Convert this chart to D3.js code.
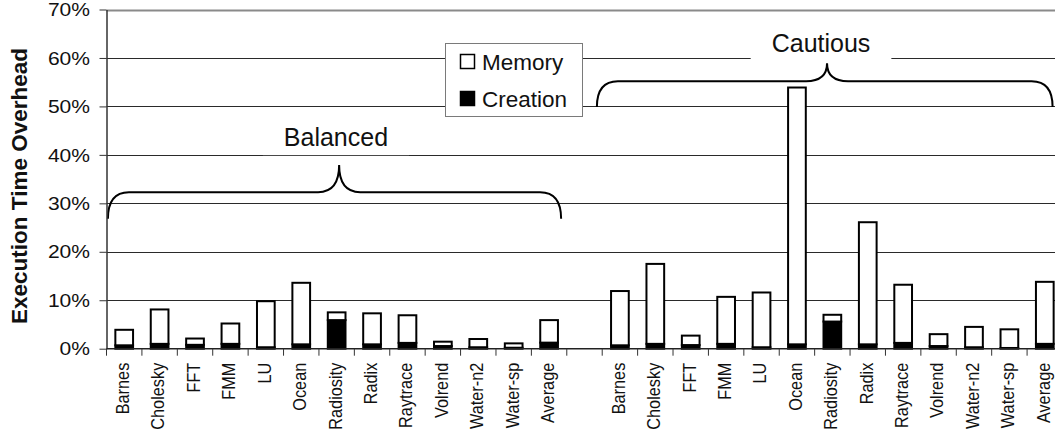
<!DOCTYPE html>
<html><head><meta charset="utf-8">
<script src="https://cdn.jsdelivr.net/npm/d3@7"></script>
<style>
html,body{margin:0;padding:0;background:#fff;}
svg{display:block;font-family:"Liberation Sans",Arial,sans-serif;}
</style></head>
<body>
<svg id="chart" width="1055" height="437"></svg>
<script>
// ---- data ----
const categories = ["Barnes","Cholesky","FFT","FMM","LU","Ocean","Radiosity","Radix","Raytrace","Volrend","Water-n2","Water-sp","Average"];
const groups = ["Balanced","Cautious"];
const seriesKeys = ["Creation","Memory"];
const balancedCreation = [0.7, 1.0, 0.8, 1.0, 0.3, 0.9, 5.9, 0.9, 1.2, 0.55, 0.3, 0.2, 1.25];
const balancedMemory   = [3.2, 7.1, 1.3, 4.2, 9.5, 12.7, 1.6, 6.4, 5.7, 0.9, 1.7, 0.9, 4.65];
const cautiousCreation = [0.7, 1.0, 0.75, 1.0, 0.3, 0.9, 5.6, 0.9, 1.2, 0.55, 0.3, 0.15, 1.0];
const cautiousMemory   = [11.2, 16.5, 1.95, 9.7, 11.3, 53.0, 1.4, 25.2, 12.0, 2.45, 4.2, 3.85, 12.8];
const yTicks = [0,10,20,30,40,50,60,70];
const yTickLabels = ["0%","10%","20%","30%","40%","50%","60%","70%"];
const yTitle = "Execution Time Overhead";

(function(){
// ---- build rows ----
const rows = [];
categories.forEach((c,i)=>rows.push({key:"B|"+c, name:c, Creation:balancedCreation[i], Memory:balancedMemory[i]}));
rows.push({key:"gap", name:"", Creation:0, Memory:0});
categories.forEach((c,i)=>rows.push({key:"C|"+c, name:c, Creation:cautiousCreation[i], Memory:cautiousMemory[i]}));

const svg = d3.select("#chart");
const pl = 106.5, pr = 1062.5, pt = 9.5, pb = 348.7;
const nSlots = rows.length;

const x = d3.scaleBand().domain(rows.map(r=>r.key)).range([pl,pr]).paddingInner(0.5).paddingOuter(0.25);
const slot = d3.scaleLinear().domain([0,nSlots]).range([pl,pr]);
const y = d3.scaleLinear().domain([0,70]).range([pb,pt]);

// gridlines
svg.append("g").selectAll("line").data(yTicks.filter(v=>v>0)).join("line")
  .attr("x1",pl).attr("x2",pr)
  .attr("y1",d=>Math.round(y(d))+0.5).attr("y2",d=>Math.round(y(d))+0.5)
  .attr("stroke",d=>d===70?"#8a8a8a":"#2a2a2a")
  .attr("stroke-width",d=>d===70?2:1);

// group labels with white background
const groupLabels = [
  {text:groups[0], slot:6.48, v:41.8},
  {text:groups[1], slot:20.18, v:61.2}
];
const gl = svg.append("g");
groupLabels.forEach(g=>{
  const t = gl.append("text").attr("x",slot(g.slot)).attr("y",y(g.v))
    .attr("text-anchor","middle").attr("font-size",25).attr("fill","#111").text(g.text);
  const bb = t.node().getBBox();
  gl.insert("rect","text").attr("x",bb.x-21).attr("y",bb.y-2).attr("width",bb.width+42).attr("height",bb.height+6).attr("fill","#fff");
});

// braces
const braces = [
  {s0:0.04, s1:12.84, sm:6.57, vEnd:26.8, vBar:32.3, vTip:37.9},
  {s0:13.85, s1:26.72, sm:20.35, vEnd:49.9, vBar:55.2, vTip:58.9}
];
function bracePath(b){
  const x0=slot(b.s0), x1=slot(b.s1), xm=slot(b.sm), ye=y(b.vEnd), yb=y(b.vBar), yt=y(b.vTip), r=21;
  return `M${x0},${ye} Q${x0},${yb} ${x0+r},${yb} L${xm-r},${yb} Q${xm},${yb} ${xm},${yt} Q${xm},${yb} ${xm+r},${yb} L${x1-r},${yb} Q${x1},${yb} ${x1},${ye}`;
}
svg.append("g").selectAll("path").data(braces).join("path")
  .attr("d",bracePath).attr("fill","none").attr("stroke","#000").attr("stroke-width",2);

// bars
const stack = d3.stack().keys(seriesKeys)(rows.filter(r=>r.key!=="gap"));
const fills = {Creation:"#000", Memory:"#fff"};
svg.append("g").selectAll("g").data(stack).join("g")
  .attr("fill",d=>fills[d.key])
  .selectAll("rect").data(d=>d).join("rect")
  .attr("x",d=>x(d.data.key)).attr("width",x.bandwidth())
  .attr("y",d=>y(d[1])).attr("height",d=>y(d[0])-y(d[1]))
  .attr("stroke","#000").attr("stroke-width",2);

// y axis
const ya = svg.append("g").attr("transform",`translate(${pl},0)`)
  .call(d3.axisLeft(y).tickValues(yTicks).tickFormat((d,i)=>yTickLabels[i]).tickSize(7).tickSizeOuter(0));
ya.select(".domain").attr("stroke","#333").attr("stroke-width",1.5);
ya.selectAll(".tick line").attr("stroke","#333");
ya.selectAll(".tick text").attr("font-size",18).attr("font-family","Liberation Sans, Arial, sans-serif")
  .attr("fill","#111").attr("x",-16.5/1.17).attr("dy","0.34em").attr("transform","scale(1.17,1)");

// x axis line and boundary ticks
const xa = svg.append("g");
xa.append("line").attr("x1",pl).attr("x2",pr).attr("y1",pb).attr("y2",pb).attr("stroke","#222").attr("stroke-width",1.5);
xa.selectAll("line.tk").data(d3.range(nSlots+1)).join("line").attr("class","tk")
  .attr("x1",d=>slot(d)).attr("x2",d=>slot(d)).attr("y1",pb).attr("y2",pb+7).attr("stroke","#333");
xa.selectAll("text").data(rows.filter(r=>r.key!=="gap")).join("text")
  .attr("transform",d=>`translate(${x(d.key)+x.bandwidth()/2},${pb+14}) scale(1.1,1) rotate(-90)`)
  .attr("text-anchor","end").attr("dy","0.27em").attr("font-size",16.3).attr("fill","#111").text(d=>d.name);

// y title
svg.append("text").attr("transform",`translate(27,186) rotate(-90)`)
  .attr("text-anchor","middle").attr("font-size",22.5).attr("font-weight","bold").attr("fill","#111").text(yTitle);

// legend
const lg = svg.append("g").attr("transform","translate(445,43)");
lg.append("rect").attr("x",0.5).attr("y",0.5).attr("width",137).attr("height",73).attr("fill","#fff").attr("stroke","#7a7a7a").attr("stroke-width",1);
const legendItems = ["Memory","Creation"];
legendItems.forEach((k,i)=>{
  lg.append("rect").attr("x",15.5).attr("y",11.5+i*37).attr("width",14).attr("height",14)
    .attr("fill",fills[k]).attr("stroke","#000").attr("stroke-width",1.5);
  lg.append("text").attr("x",37).attr("y",27+i*36.5).attr("font-size",22.5).attr("fill","#111").text(k);
});
})();
</script>
</body></html>
